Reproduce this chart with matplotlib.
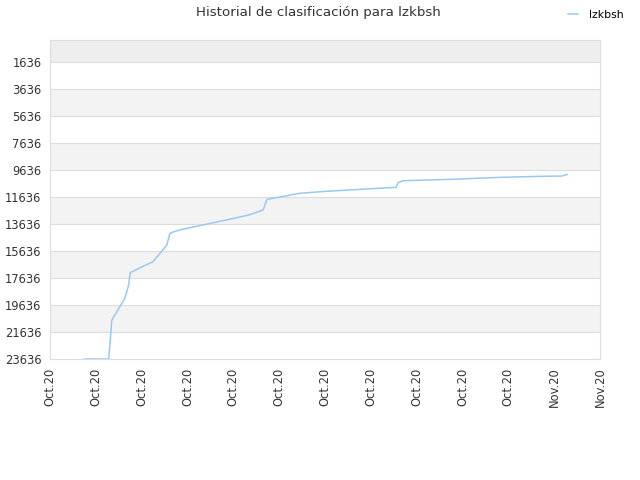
import matplotlib
matplotlib.use('Agg')
import matplotlib.pyplot as plt
import pandas as pd

# Ranking history (lower number = better position)
dates = [
    '2020-10-07 21:00', '2020-10-09 05:00', '2020-10-09 09:00', '2020-10-10 02:00',
    '2020-10-10 07:00', '2020-10-10 09:00', '2020-10-10 22:00', '2020-10-11 15:00',
    '2020-10-12 09:00', '2020-10-12 13:00', '2020-10-12 17:00', '2020-10-13 05:00',
    '2020-10-15 20:00', '2020-10-16 20:00', '2020-10-17 15:00', '2020-10-17 20:00',
    '2020-10-19 15:00', '2020-10-20 18:00', '2020-10-23 11:00', '2020-10-24 21:00',
    '2020-10-25 00:00', '2020-10-25 06:00', '2020-10-28 09:00', '2020-10-30 11:00',
    '2020-11-01 18:00', '2020-11-02 22:00', '2020-11-03 05:00',
]
ranks = [
    23636, 23636, 20750, 19140,
    18160, 17240, 16870, 16420,
    15190, 14330, 14230, 14030,
    13270, 12970, 12600, 11810,
    11360, 11240, 11020, 10920,
    10550, 10430, 10300, 10180,
    10100, 10080, 9960,
]

y_ticks = [1636, 3636, 5636, 7636, 9636, 11636, 13636, 15636, 17636, 19636, 21636, 23636]
x_start = pd.Timestamp('2020-10-06')
x_end = pd.Timestamp('2020-11-05')
x_ticks = pd.date_range(x_start, x_end, periods=13)

fig = plt.figure(figsize=(6.4, 4.8), dpi=100)
ax = fig.add_axes([0.078, 0.252, 0.8595, 0.6647])

# Alternating background bands
ax.axhspan(0, y_ticks[0], color='#eeeeee', zorder=0, lw=0)
for i in range(len(y_ticks) - 1):
    if i % 2 == 1:
        ax.axhspan(y_ticks[i], y_ticks[i + 1], color='#f3f3f3', zorder=0, lw=0)

for t in y_ticks:
    ax.axhline(t, color='#dddddd', lw=0.8, zorder=1)

ax.plot(pd.to_datetime(dates), ranks, color='#99c8f5', lw=1.1, zorder=3, label='lzkbsh')

ax.set_ylim(23636, 0)
ax.set_xlim(x_start, x_end)
ax.set_yticks(y_ticks)
ax.set_yticklabels([str(t) for t in y_ticks])
ax.set_xticks(x_ticks)
ax.set_xticklabels([d.strftime('%b') + '.20' for d in x_ticks], rotation=90)
ax.tick_params(length=0, labelsize=8.3, labelcolor='#333333', pad=6)

for s in ax.spines.values():
    s.set_color('#dddddd')

fig.text(0.497, 0.974, 'Historial de clasificación para lzkbsh', ha='center', va='center',
         fontsize=9.6, color='#333333')
fig.legend(loc='upper right', bbox_to_anchor=(0.99, 1.0), frameon=False, fontsize=7.8,
           handlelength=1.0, handletextpad=1.0)

fig.savefig('out.png')
